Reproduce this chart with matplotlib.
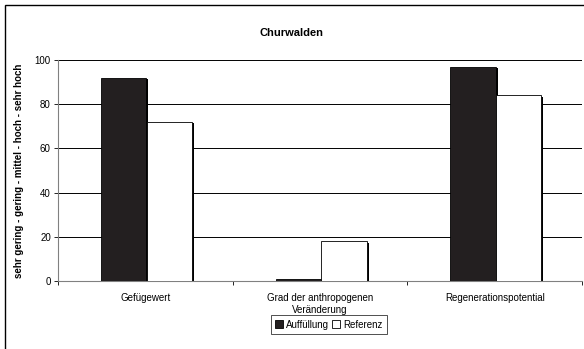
import numpy as np
import matplotlib
matplotlib.use("Agg")
import matplotlib.pyplot as plt
from matplotlib.patches import Rectangle

plt.rcParams['font.family'] = ['Liberation Sans', 'DejaVu Sans']

categories = ['Gefügewert', 'Grad der anthropogenen\nVeränderung', 'Regenerationspotential']
auffuellung = [92, 1, 97]
referenz = [72, 18, 84]
yticks = [0, 20, 40, 60, 80, 100]

fig = plt.figure(figsize=(5.84, 3.49), dpi=100)
ax = fig.add_axes([0.099, 0.195, 0.898, 0.633])

x = np.arange(len(categories))
w = 0.258
off = 0.125
sh = 0.012

# shadow bars behind
ax.bar(x - off + sh, auffuellung, w, bottom=-0.6, color='black', zorder=2)
ax.bar(x + off + w + 0.012 - w + sh, referenz, w, bottom=-0.6, color='black', zorder=2)
ax.bar(x - off, auffuellung, w, color='#231f20', edgecolor='black', linewidth=0.6,
       label='Auffüllung', zorder=3)
ax.bar(x + off + 0.012, referenz, w, color='white', edgecolor='black', linewidth=0.6,
       label='Referenz', zorder=3)

ax.set_xlim(-0.5, len(categories) - 0.5)
ax.set_ylim(0, 100)
ax.set_yticks(yticks)
ax.tick_params(axis='y', labelsize=7, length=3, width=0.6, pad=2)
ax.set_xticks(x)
ax.set_xticklabels(categories, fontsize=7)
ax.tick_params(axis='x', length=0, pad=9)
ax.set_xticks(np.arange(len(categories) + 1) - 0.5, minor=True)
ax.tick_params(axis='x', which='minor', length=3, width=0.6)
ax.yaxis.grid(True, color='black', linewidth=0.7)
ax.set_axisbelow(True)
for s in ['top', 'right']:
    ax.spines[s].set_visible(False)
ax.spines['left'].set_color('#808080')
ax.spines['bottom'].set_color('#808080')

ax.set_ylabel('sehr gering - gering - mittel - hoch - sehr hoch', fontsize=7,
              fontweight='bold', labelpad=8)
fig.text(0.5, 0.905, 'Churwalden', ha='center', va='center', fontsize=8, fontweight='bold')

leg = fig.legend(loc='center', bbox_to_anchor=(0.563, 0.07), ncol=2, fontsize=7,
                 frameon=True, fancybox=False, edgecolor='black', handlelength=0.8,
                 handleheight=0.8, handletextpad=0.3, columnspacing=0.3,
                 borderpad=0.45, borderaxespad=0)
leg.get_frame().set_linewidth(0.6)

fig.patches.append(Rectangle((0.009, -0.05), 1.2, 1.036, transform=fig.transFigure,
                             fill=False, edgecolor='black', linewidth=1.0))

fig.savefig('out.png', dpi=100)
